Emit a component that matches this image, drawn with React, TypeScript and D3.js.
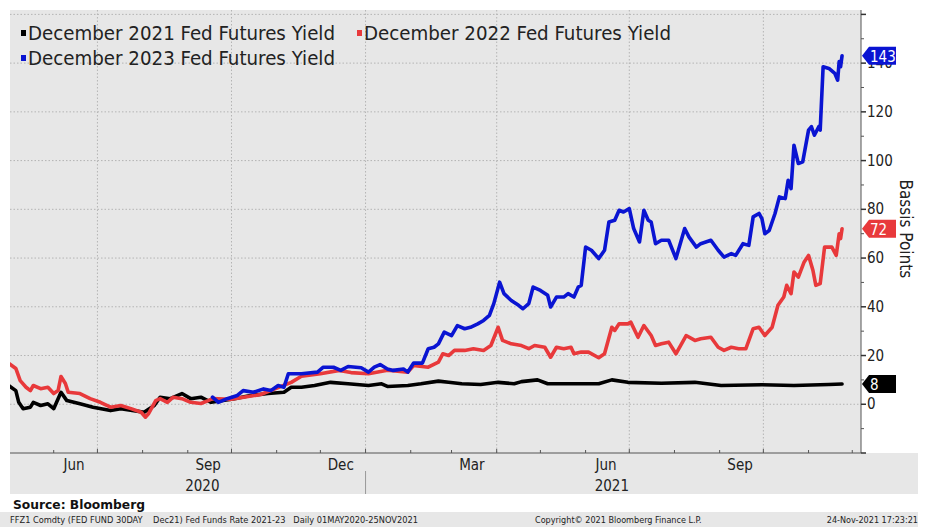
import React from "react";
import * as d3 from "d3";

// ---- data (basis points) ----
const dec21Dates = ["2020-05-01","2020-05-06","2020-05-08","2020-05-11","2020-05-16","2020-05-18","2020-05-23","2020-05-28","2020-06-01","2020-06-06","2020-06-10","2020-06-19","2020-06-28","2020-07-10","2020-07-17","2020-07-26","2020-08-02","2020-08-09","2020-08-13","2020-08-20","2020-08-28","2020-09-03","2020-09-10","2020-09-17","2020-09-24","2020-10-03","2020-10-14","2020-10-26","2020-11-06","2020-11-11","2020-11-18","2020-11-27","2020-12-08","2020-12-20","2021-01-03","2021-01-12","2021-01-16","2021-01-30","2021-02-08","2021-02-20","2021-02-27","2021-03-08","2021-03-21","2021-04-02","2021-04-13","2021-04-18","2021-04-29","2021-05-06","2021-05-29","2021-06-10","2021-06-19","2021-06-30","2021-07-23","2021-08-15","2021-09-02","2021-09-30","2021-10-22","2021-11-15","2021-11-24"];
const dec21Values = [7.7,5.6,0.8,-1.8,-1.2,0.8,-0.5,0.2,-1.8,4.9,1.5,0.2,-1.2,-2.6,-1.8,-2.6,-3.3,-0.5,2.9,2.3,4.4,2.3,2.9,0.8,1.5,2.3,3.6,4.4,4.9,7,7,7.7,9,8.4,7.7,8.4,7.3,7.7,8.4,9.5,9,8.4,8.1,9,8.4,9.3,10,8.4,8.4,8.4,10,9,8.6,9,7.7,8,7.7,8.1,8.3];

const dec22Dates = ["2020-05-01","2020-05-06","2020-05-09","2020-05-13","2020-05-16","2020-05-18","2020-05-23","2020-05-28","2020-06-01","2020-06-04","2020-06-06","2020-06-09","2020-06-11","2020-06-19","2020-06-26","2020-07-03","2020-07-10","2020-07-17","2020-07-24","2020-07-31","2020-08-03","2020-08-05","2020-08-10","2020-08-13","2020-08-18","2020-08-22","2020-08-28","2020-09-03","2020-09-10","2020-09-15","2020-09-18","2020-09-30","2020-10-21","2020-11-11","2020-11-18","2020-12-01","2020-12-14","2020-12-22","2021-01-03","2021-01-16","2021-01-30","2021-02-03","2021-02-13","2021-02-20","2021-02-23","2021-02-27","2021-03-03","2021-03-10","2021-03-16","2021-03-23","2021-03-28","2021-04-02","2021-04-05","2021-04-11","2021-04-18","2021-04-23","2021-04-27","2021-05-04","2021-05-08","2021-05-12","2021-05-17","2021-05-22","2021-05-24","2021-05-29","2021-06-03","2021-06-10","2021-06-14","2021-06-19","2021-06-21","2021-06-24","2021-06-30","2021-07-02","2021-07-07","2021-07-11","2021-07-16","2021-07-19","2021-07-23","2021-07-28","2021-08-02","2021-08-09","2021-08-15","2021-08-19","2021-08-26","2021-08-31","2021-09-04","2021-09-09","2021-09-14","2021-09-19","2021-09-24","2021-09-28","2021-10-02","2021-10-07","2021-10-11","2021-10-15","2021-10-17","2021-10-20","2021-10-22","2021-10-25","2021-10-29","2021-11-01","2021-11-04","2021-11-06","2021-11-09","2021-11-12","2021-11-17","2021-11-20","2021-11-22","2021-11-23","2021-11-24"];
const dec22Values = [16.9,14.7,9.7,7,5.6,7.7,6.4,7,4.4,5.6,11.4,8.5,4.9,4.4,2.3,0.8,-1.2,-0.5,-1.8,-3.3,-5.3,-3.9,1.5,2.3,0.8,2.9,2.3,0.8,0.3,1.5,2.3,2,4,9,11.5,12.5,13.9,13,12.5,14,13.2,15.9,15.2,17.3,20.7,20,22.1,22.1,22.8,22.1,24.1,31.6,26.2,24.8,24.1,22.8,24.1,23.4,19.3,23.4,22.8,23.4,20.7,21.4,21.4,19.1,20.7,31.6,30.3,33,33,33.7,27.5,32.3,28.2,24.1,24.8,25.5,20.7,28.2,26.2,26.9,27.5,23.4,22.1,23.4,22.8,22.8,31,31.6,28.2,31.6,40.6,44,48.8,45.4,54.3,52.2,58.4,61.1,55,48.8,49.5,64.5,64.5,61.1,70,68,72];

const dec23Dates = ["2020-09-18","2020-09-22","2020-09-28","2020-10-05","2020-10-09","2020-10-16","2020-10-23","2020-10-28","2020-11-02","2020-11-06","2020-11-09","2020-11-18","2020-11-29","2020-12-03","2020-12-10","2020-12-15","2020-12-20","2020-12-29","2021-01-03","2021-01-07","2021-01-11","2021-01-16","2021-01-20","2021-01-27","2021-01-30","2021-02-03","2021-02-09","2021-02-13","2021-02-17","2021-02-20","2021-02-24","2021-03-01","2021-03-05","2021-03-10","2021-03-14","2021-03-19","2021-03-23","2021-03-27","2021-03-30","2021-04-03","2021-04-06","2021-04-11","2021-04-16","2021-04-19","2021-04-23","2021-04-26","2021-05-01","2021-05-06","2021-05-08","2021-05-12","2021-05-17","2021-05-20","2021-05-24","2021-05-27","2021-05-29","2021-06-01","2021-06-05","2021-06-10","2021-06-14","2021-06-17","2021-06-21","2021-06-24","2021-06-27","2021-07-01","2021-07-04","2021-07-08","2021-07-11","2021-07-14","2021-07-16","2021-07-19","2021-07-23","2021-07-28","2021-08-02","2021-08-08","2021-08-11","2021-08-16","2021-08-19","2021-08-26","2021-08-31","2021-09-04","2021-09-09","2021-09-12","2021-09-17","2021-09-21","2021-09-24","2021-09-28","2021-09-30","2021-10-02","2021-10-05","2021-10-09","2021-10-12","2021-10-16","2021-10-18","2021-10-20","2021-10-22","2021-10-25","2021-10-28","2021-11-01","2021-11-03","2021-11-05","2021-11-08","2021-11-09","2021-11-11","2021-11-15","2021-11-19","2021-11-21","2021-11-22","2021-11-23","2021-11-24"];
const dec23Values = [2.9,0.8,2.3,3.6,5.6,4.9,6.3,5.6,7.7,7,12.5,12.5,13.2,15.2,15.2,13.9,15.5,15,13.2,15.2,16.3,14.5,13.9,14.5,13.2,16.9,16.9,22.8,23.4,24.8,29.6,28.2,32.3,31,31.6,33,34.4,36.5,41.3,50.1,45.4,42.6,40.6,39.2,41.3,48.1,46.7,44.7,39.9,44,44,45.4,44,48.1,48.8,64.5,63.2,59.8,63.2,74.8,75.5,79.6,78.9,80.3,72.1,66.6,79.6,75.5,74.8,65.9,67.3,67.3,59.8,72.1,68.6,64.5,65.9,67.3,63.2,60.4,61.8,61.1,65.9,65.2,76.9,78.3,76.2,70,71.3,78.3,85.1,84.4,91.9,88.5,106.3,98.8,99.5,112.5,113.9,110.4,113.9,112.5,138.5,137.8,135.8,133,140.6,138.5,143];

const seriesNames = ["December 2021 Fed Futures Yield", "December 2022 Fed Futures Yield", "December 2023 Fed Futures Yield"];
const seriesColors = ["#000000", "#e8393b", "#0a14d2"];
const tagLabels = ["8", "72", "143"];

const yTicks = [-20, 0, 20, 40, 60, 80, 100, 120, 140, 160];
const yTickLabels = ["", "0", "20", "40", "60", "80", "100", "120", "140", ""];
const yMinorTicks = [-10, 10, 30, 50, 70, 90, 110, 130, 150];
const monthLabelDates = ["2020-06-15", "2020-09-15", "2020-12-15", "2021-03-15", "2021-06-15", "2021-09-15"];
const monthLabels = ["Jun", "Sep", "Dec", "Mar", "Jun", "Sep"];
const yearLabelDates = ["2020-09-11", "2021-06-19"];
const yearLabels = ["2020", "2021"];
const yearBreak = "2021-01-01";

const yTitle = "Bassis Points";
const sourceText = "Source: Bloomberg";
const footerLeft = "FFZ1 Comdty (FED FUND 30DAY    Dec21) Fed Funds Rate 2021-23   Daily 01MAY2020-25NOV2021";
const footerMid = "Copyright\u00A9 2021 Bloomberg Finance L.P.";
const footerRight = "24-Nov-2021 17:23:21";

const FONT = "'DejaVu Sans Condensed', 'Liberation Sans Narrow', 'DejaVu Sans', sans-serif";

export default function App() {
  const parse = d3.timeParse("%Y-%m-%d");
  const left = 10, right = 861, top = 10, bottom = 453;
  const x = d3.scaleTime().domain([parse("2020-05-02")!, parse("2021-12-07")!]).range([left, right]);
  const y = d3.scaleLinear().domain([-20, 161.8]).range([bottom, top]);

  const series = [
    { dates: dec21Dates, values: dec21Values },
    { dates: dec22Dates, values: dec22Values },
    { dates: dec23Dates, values: dec23Values },
  ].map((s) => s.dates.map((d, i) => ({ date: parse(d)!, value: s.values[i] })));

  const line = d3.line<{ date: Date; value: number }>().x((d) => x(d.date)).y((d) => y(d.value));

  const months = d3.timeMonth.range(x.domain()[0], x.domain()[1]);
  const quarterMonths = months.filter((m) => m.getMonth() % 3 === 0);
  const gray = "#e7e7e7";
  const grid = "#b4b4b4";

  return (
    <svg width={930} height={527} style={{ position: "absolute", left: 0, top: 0, background: "#fff" }} fontFamily={FONT}>
      <defs>
        <clipPath id="plotClip">
          <rect x={left} y={top} width={right - left} height={bottom - top} />
        </clipPath>
      </defs>
      {/* backgrounds */}
      <rect x={left} y={top} width={right - left} height={bottom - top} fill={gray} />
      <rect x={left} y={bottom} width={918 - left} height={41} fill={gray} />
      <rect x={0} y={512} width={918} height={15} fill={gray} />

      {/* grid */}
      {yTicks.filter((t) => t > -20).map((t) => (
        <line key={"gy" + t} x1={left} x2={right} y1={y(t)} y2={y(t)} stroke={grid} strokeWidth={1} strokeDasharray="1.5,2" />
      ))}
      {quarterMonths.map((m) => (
        <line key={"gx" + m.getTime()} x1={x(m)} x2={x(m)} y1={top} y2={bottom} stroke={grid} strokeWidth={1} strokeDasharray="1.5,2" />
      ))}

      {/* lines */}
      <g clipPath="url(#plotClip)">
        {series.map((s, i) => (
          <path key={"s" + i} d={line(s) || ""} fill="none" stroke={seriesColors[i]} strokeWidth={3.6} strokeLinejoin="round" strokeLinecap="round" />
        ))}
      </g>

      {/* axes */}
      <line x1={left} x2={right} y1={bottom} y2={bottom} stroke="#555" strokeWidth={1} />
      <line x1={right} x2={right} y1={top} y2={bottom} stroke="#555" strokeWidth={1} />
      {months.map((m) => (
        <line key={"xt" + m.getTime()} x1={x(m)} x2={x(m)} y1={bottom} y2={bottom - (m.getMonth() % 3 === 0 ? 4 : 3)} stroke="#555" strokeWidth={1} />
      ))}
      {monthLabelDates.map((d, i) => (
        <text key={"ml" + i} x={x(parse(d)!)} y={465} fontSize={15} textAnchor="middle" dominantBaseline="central" fill="#222">{monthLabels[i]}</text>
      ))}
      {yearLabelDates.map((d, i) => (
        <text key={"yl" + i} x={x(parse(d)!)} y={486} fontSize={15} textAnchor="middle" dominantBaseline="central" fill="#222">{yearLabels[i]}</text>
      ))}
      <line x1={x(parse(yearBreak)!)} x2={x(parse(yearBreak)!)} y1={471} y2={494} stroke="#999" strokeWidth={1} />

      {yTicks.map((t, i) => (
        <g key={"yt" + t}>
          <line x1={right} x2={right + 5} y1={y(t)} y2={y(t)} stroke="#333" strokeWidth={1.5} />
          {yTickLabels[i] && (
            <text x={right + 6} y={y(t)} fontSize={15} dominantBaseline="central" fill="#222">{yTickLabels[i]}</text>
          )}
        </g>
      ))}
      {yMinorTicks.map((t) => (
        <line key={"ym" + t} x1={right} x2={right + 3} y1={y(t)} y2={y(t)} stroke="#555" strokeWidth={1} />
      ))}

      {/* last value tags */}
      {series.map((s, i) => {
        const ty = y(s[s.length - 1].value);
        const pts = [[862, ty], [869, ty - 9], [896, ty - 9], [896, ty + 9], [869, ty + 9]].map((p) => p.join(",")).join(" ");
        return (
          <g key={"tag" + i}>
            <polygon points={pts} fill={seriesColors[i]} />
            <text x={870} y={ty + 1} fontSize={15} fill="#fff" dominantBaseline="central">{tagLabels[i]}</text>
          </g>
        );
      })}

      {/* y title */}
      <text transform={`translate(906,${y(72)}) rotate(90)`} fontSize={17} textAnchor="middle" dominantBaseline="central" fill="#222">{yTitle}</text>

      {/* legend */}
      {seriesNames.map((n, i) => {
        const lx = i === 1 ? 357 : 21;
        const ly = i === 2 ? 58 : 33;
        return (
          <g key={"lg" + i}>
            <rect x={lx} y={ly - 3} width={5} height={6} fill={seriesColors[i]} />
            <text x={lx + 7} y={ly} fontSize={19} dominantBaseline="central" fill="#222" textLength={307} lengthAdjust="spacingAndGlyphs">{n}</text>
          </g>
        );
      })}

      {/* source and footer */}
      <text x={13} y={504} fontSize={13} fontWeight="bold" dominantBaseline="central" fill="#111" textLength={132} lengthAdjust="spacingAndGlyphs">{sourceText}</text>
      <text x={10} y={520} fontSize={9} dominantBaseline="central" fill="#222" textLength={408} lengthAdjust="spacingAndGlyphs" xmlSpace="preserve">{footerLeft}</text>
      <text x={535} y={520} fontSize={9} dominantBaseline="central" fill="#222">{footerMid}</text>
      <text x={918} y={520} fontSize={9} textAnchor="end" dominantBaseline="central" fill="#222">{footerRight}</text>
    </svg>
  );
}
